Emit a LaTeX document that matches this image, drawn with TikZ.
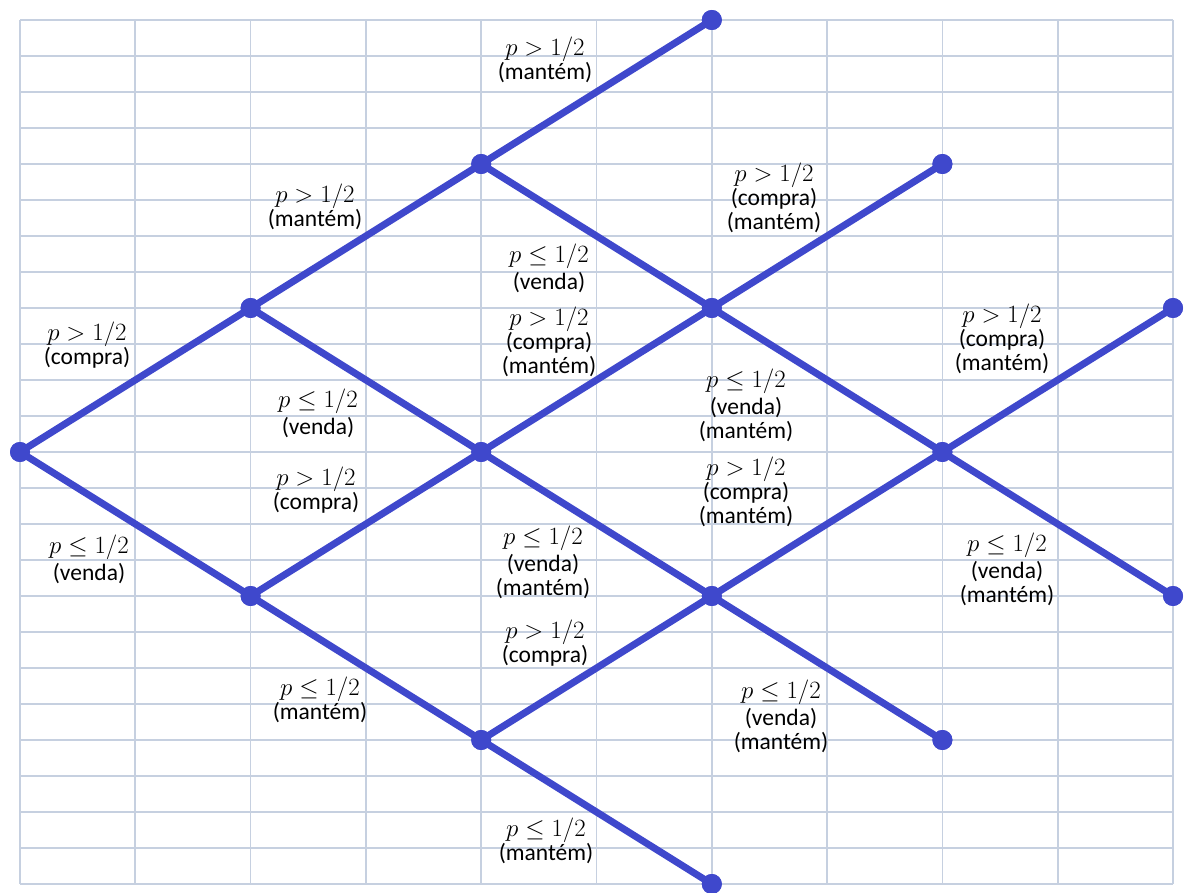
\documentclass[tikz,border=0pt]{standalone}
\usepackage{fontspec}
\setmainfont{Carlito}
\definecolor{gridc}{HTML}{C6D0E0}
\definecolor{treeblue}{HTML}{3F48CC}
\newcommand\pgt{{\fontsize{23.5}{23.5}\selectfont$p>1/2$}}
\newcommand\ple{{\fontsize{23.5}{23.5}\selectfont$p\leq 1/2$}}
\begin{document}
\begin{tikzpicture}[x=1pt,y=-1pt,
  dot/.style={circle,fill=treeblue,inner sep=0pt,minimum size=20pt},
  edge/.style={draw=treeblue,line width=7pt},
  lab/.style={align=center,font=\fontsize{23.5}{24}\selectfont,inner sep=0pt,text=black}]
\useasboundingbox (0,0) rectangle (1184,893);
\foreach \i in {0,...,10} \draw[gridc,line width=1.7pt] (20+115.3*\i,20) -- (20+115.3*\i,884);
\foreach \j in {0,...,24} \draw[gridc,line width=1.7pt] (20,20+36*\j) -- (1173,20+36*\j);
% tree nodes
\node[dot] (n0) at (20,452) {};
\node[dot] (a1) at (250.6,308) {};
\node[dot] (b1) at (250.6,596) {};
\node[dot] (a2) at (481.2,164) {};
\node[dot] (b2) at (481.2,452) {};
\node[dot] (c2) at (481.2,740) {};
\node[dot] (a3) at (711.8,20) {};
\node[dot] (b3) at (711.8,308) {};
\node[dot] (c3) at (711.8,596) {};
\node[dot] (d3) at (711.8,884) {};
\node[dot] (a4) at (942.4,164) {};
\node[dot] (b4) at (942.4,452) {};
\node[dot] (c4) at (942.4,740) {};
\node[dot] (a5) at (1173,308) {};
\node[dot] (b5) at (1173,596) {};
% edges
\draw[edge] (n0.center) -- (a1.center);
\draw[edge] (n0.center) -- (b1.center);
\draw[edge] (a1.center) -- (a2.center);
\draw[edge] (a1.center) -- (b2.center);
\draw[edge] (b1.center) -- (b2.center);
\draw[edge] (b1.center) -- (c2.center);
\draw[edge] (a2.center) -- (a3.center);
\draw[edge] (a2.center) -- (b3.center);
\draw[edge] (b2.center) -- (b3.center);
\draw[edge] (b2.center) -- (c3.center);
\draw[edge] (c2.center) -- (c3.center);
\draw[edge] (c2.center) -- (d3.center);
\draw[edge] (b3.center) -- (a4.center);
\draw[edge] (b3.center) -- (b4.center);
\draw[edge] (c3.center) -- (b4.center);
\draw[edge] (c3.center) -- (c4.center);
\draw[edge] (b4.center) -- (a5.center);
\draw[edge] (b4.center) -- (b5.center);
% redraw dots on top
\foreach \n in {n0,a1,b1,a2,b2,c2,a3,b3,c3,d3,a4,b4,c4,a5,b5}
  \fill[treeblue] (\n.center) circle (10pt);
% labels
\node[lab] (l1) at (545,60) {\pgt\\(mantém)};
\node[lab] (l2) at (315,207) {\pgt\\(mantém)};
\node[lab] (l3) at (87,345) {\pgt\\(compra)};
\node[lab] (l4) at (318,413) {\ple\\[3pt](venda)};
\node[lab] (l5) at (316,490) {\pgt\\(compra)};
\node[lab] (l6) at (89,559) {\ple\\[3pt](venda)};
\node[lab] (l7) at (549,268) {\ple\\[3pt](venda)};
\node[lab] (l8) at (549,342) {\pgt\\(compra)\\(mantém)};
\node[lab] (l9) at (774,198) {\pgt\\(compra)\\(mantém)};
\node[lab] (l10) at (1002,339) {\pgt\\(compra)\\(mantém)};
\node[lab] (l11) at (746,405) {\ple\\[3pt](venda)\\(mantém)};
\node[lab] (l12) at (746,492) {\pgt\\(compra)\\(mantém)};
\node[lab] (l13) at (543,562) {\ple\\[3pt](venda)\\(mantém)};
\node[lab] (l14) at (545,643) {\pgt\\(compra)};
\node[lab] (l15) at (1007,569) {\ple\\[3pt](venda)\\(mantém)};
\node[lab] (l16) at (320,700) {\ple\\(mantém)};
\node[lab] (l17) at (781,716) {\ple\\[3pt](venda)\\(mantém)};
\node[lab] (l18) at (546,841) {\ple\\(mantém)};
\end{tikzpicture}
\end{document}
